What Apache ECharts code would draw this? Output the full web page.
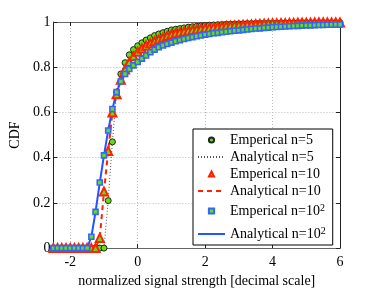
<!DOCTYPE html>
<html>
<head>
<meta charset="utf-8">
<script src="https://cdn.jsdelivr.net/npm/echarts@6/dist/echarts.min.js"></script>
<style>html,body{margin:0;padding:0;background:#fff}#c{width:374px;height:293px}</style>
</head>
<body>
<div id="c"></div>
<script>
// x grid (decimal scale)
const xs = [-2.5,-2.375,-2.25,-2.125,-2,-1.875,-1.75,-1.625,-1.5,-1.375,-1.25,-1.125,-1,-0.875,-0.75,-0.625,-0.5,-0.375,-0.25,-0.125,0,0.125,0.25,0.375,0.5,0.625,0.75,0.875,1,1.125,1.25,1.375,1.5,1.625,1.75,1.875,2,2.125,2.25,2.375,2.5,2.625,2.75,2.875,3,3.125,3.25,3.375,3.5,3.625,3.75,3.875,4,4.125,4.25,4.375,4.5,4.625,4.75,4.875,5,5.125,5.25,5.375,5.5,5.625,5.75,5.875,6];
// CDF values, n=5
const cdfN5 = [0,0,0,0,0,0,0,0,0,0,0,0,0,0.21,0.47,0.69,0.77,0.82,0.855,0.878,0.895,0.908,0.92,0.93,0.94,0.947,0.953,0.959,0.965,0.968,0.971,0.974,0.977,0.979,0.981,0.983,0.985,0.986,0.987,0.988,0.989,0.99,0.99,0.991,0.992,0.992,0.993,0.993,0.994,0.994,0.994,0.995,0.995,0.995,0.996,0.996,0.996,0.996,0.997,0.997,0.997,0.997,0.997,0.997,0.997,0.997,0.997,0.997,0.997];
// CDF values, n=10
const cdfN10 = [0,0,0,0,0,0,0,0,0,0,0,0.045,0.25,0.43,0.6,0.68,0.745,0.79,0.823,0.848,0.868,0.883,0.895,0.906,0.915,0.923,0.93,0.938,0.945,0.95,0.954,0.958,0.961,0.964,0.967,0.97,0.972,0.974,0.976,0.978,0.98,0.982,0.983,0.985,0.986,0.987,0.988,0.989,0.99,0.991,0.992,0.993,0.994,0.994,0.995,0.995,0.996,0.996,0.997,0.997,0.997,0.997,0.998,0.998,0.998,0.998,0.998,0.998,0.998];
// CDF values, n=10^2
const cdfN100 = [0,0,0,0,0,0,0,0,0,0.05,0.16,0.29,0.41,0.52,0.615,0.69,0.737,0.77,0.792,0.808,0.823,0.838,0.852,0.866,0.878,0.888,0.896,0.903,0.909,0.915,0.92,0.925,0.929,0.933,0.937,0.94,0.944,0.947,0.95,0.952,0.955,0.957,0.959,0.961,0.963,0.965,0.967,0.969,0.971,0.972,0.974,0.975,0.977,0.978,0.979,0.98,0.981,0.982,0.983,0.984,0.985,0.985,0.986,0.987,0.987,0.988,0.988,0.989,0.989];
const xTicks = [-2,0,2,4,6];
const seriesNames = ['Emperical n=5','Analytical n=5','Emperical n=10','Analytical n=10','Emperical n=10^2','Analytical n=10^2'];

const pairs = ys => xs.map((x,i)=>[x, ys[i]]);
const FONT = 'Liberation Serif';
const GREEN = '#66dd11';

const chart = echarts.init(document.getElementById('c'), null, {renderer:'canvas'});
const tickStyle = {show:true, inside:true, length:4, customValues:xTicks, lineStyle:{color:'#222'}};
const markerSeries = (name, ys, symbol, size, border, bw) => ({
  name, type:'line', data:pairs(ys), symbol, symbolSize:size, showSymbol:true, showAllSymbol:true,
  lineStyle:{width:0, opacity:0},
  itemStyle:{color:GREEN, borderColor:border, borderWidth:bw, opacity:1}
});
const legendData = seriesNames.map(n => n.indexOf('Analytical')===0
  ? {name:n, itemStyle:{opacity:0}} : {name:n});
chart.setOption({
  animation:false,
  backgroundColor:'#fff',
  grid:{left:45, right:34, top:22, bottom:37.5, containLabel:false},
  xAxis:[{
    type:'value', min:-2.5, max:6, position:'bottom',
    axisLine:{show:true, onZero:false, lineStyle:{color:'#666', width:1}},
    axisTick:tickStyle,
    axisLabel:{customValues:xTicks, margin:7, color:'#000', fontFamily:FONT, fontSize:14},
    splitLine:{show:true, lineStyle:{color:'#bbb', type:[1,2], width:1}},
    name:'normalized signal strength [decimal scale]', nameLocation:'middle', nameGap:18,
    nameTextStyle:{color:'#000', fontFamily:FONT, fontSize:14}
  },{
    type:'value', min:-2.5, max:6, position:'top',
    axisLine:{show:true, onZero:false, lineStyle:{color:'#666', width:1}},
    axisTick:tickStyle,
    axisLabel:{show:false}, splitLine:{show:false}
  }],
  yAxis:[{
    type:'value', min:0, max:1, interval:0.2, position:'left',
    axisLine:{show:true, onZero:false, lineStyle:{color:'#222', width:1}},
    axisTick:{show:true, inside:true, length:4, lineStyle:{color:'#222'}},
    axisLabel:{margin:3, color:'#000', fontFamily:FONT, fontSize:14},
    splitLine:{show:true, lineStyle:{color:'#bbb', type:[1,2], width:1}},
    name:'CDF', nameLocation:'middle', nameGap:30,
    nameTextStyle:{color:'#000', fontFamily:FONT, fontSize:14}
  },{
    type:'value', min:0, max:1, interval:0.2, position:'right',
    axisLine:{show:true, onZero:false, lineStyle:{color:'#222', width:1}},
    axisTick:{show:true, inside:true, length:4, lineStyle:{color:'#222'}},
    axisLabel:{show:false}, splitLine:{show:false}
  }],
  legend:{
    orient:'vertical', left:193, top:129,
    data:legendData,
    backgroundColor:'#fff', borderColor:'#000', borderWidth:1,
    padding:[4,7,1,4], itemWidth:27, itemHeight:6.5, itemGap:3, itemTextGap:5,
    formatter: n => n.indexOf('^2')>=0 ? '{u|'+n.replace('^2','')+'}{s|2}' : '{t|'+n+'}',
    textStyle:{color:'#000', fontFamily:FONT, fontSize:14,
      rich:{ t:{fontFamily:FONT, fontSize:14, color:'#000', lineHeight:16},
             u:{fontFamily:FONT, fontSize:14, color:'#000', lineHeight:20, height:20},
             s:{fontFamily:FONT, fontSize:10, color:'#000', lineHeight:10, padding:[2,0,0,0], verticalAlign:'top'} }}
  },
  series:[
    markerSeries(seriesNames[0], cdfN5, 'circle', 6, '#222', 1),
    {name:seriesNames[1], type:'line', data:pairs(cdfN5), symbol:'none', showSymbol:false,
      lineStyle:{color:'#555', width:1, type:[1,2]}, itemStyle:{color:'#555'}},
    markerSeries(seriesNames[2], cdfN10, 'triangle', 8, '#ff2200', 2),
    {name:seriesNames[3], type:'line', data:pairs(cdfN10), symbol:'none', showSymbol:false,
      lineStyle:{color:'#ff2200', width:2, type:[5,4]}, itemStyle:{color:'#ff2200'}},
    markerSeries(seriesNames[4], cdfN100, 'rect', 5, '#3366ff', 1.6),
    {name:seriesNames[5], type:'line', data:pairs(cdfN100), symbol:'none', showSymbol:false,
      lineStyle:{color:'#2255ff', width:2}, itemStyle:{color:'#2255ff'}}
  ]
});
</script>
</body>
</html>
